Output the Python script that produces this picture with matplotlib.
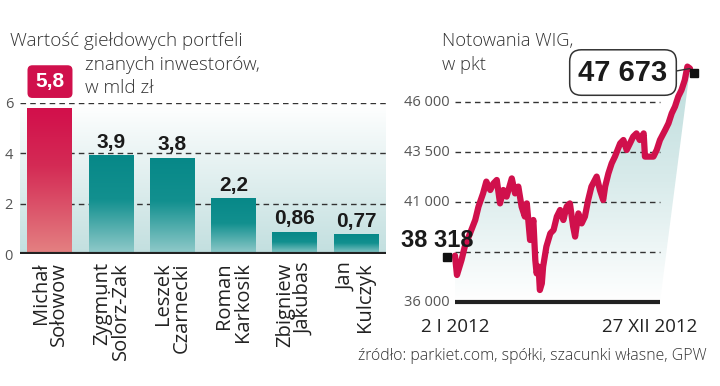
import numpy as np
import matplotlib.pyplot as plt
from matplotlib.colors import LinearSegmentedColormap
from matplotlib.patches import FancyBboxPatch, Polygon
from matplotlib.transforms import offset_copy

# portfele inwestorow (mld zl)
names = ['Michał\nSołowow', 'Zygmunt\nSolorz-Żak', 'Leszek\nCzarnecki',
         'Roman\nKarkosik', 'Zbigniew\nJakubas', 'Jan\nKulczyk']
portfolio = [5.8, 3.9, 3.8, 2.2, 0.86, 0.77]
portfolio_labels = ['5,8', '3,9', '3,8', '2,2', '0,86', '0,77']
left_ticks = [0, 2, 4, 6]

# WIG 2012 (dzien roku, punkty)
wig_days = [2, 5, 12, 17, 25, 33, 38, 45, 50, 56,
            61, 66, 71, 76, 81, 89, 94, 99, 104, 109,
            112, 117, 122, 125, 127, 130, 132, 135, 137, 142,
            148, 153, 158, 163, 168, 173, 178, 183, 186, 191,
            196, 201, 206, 211, 219, 224, 229, 232, 237, 242,
            247, 255, 260, 265, 270, 275, 280, 285, 291, 293,
            298, 306, 311, 316, 324, 329, 334, 339, 344, 349,
            354, 358, 362]
wig_values = [38318, 37350, 38100, 38770, 39430, 40100, 40770, 41430, 42020, 41600,
              41930, 42100, 40930, 41600, 41270, 42180, 41430, 41770, 40770, 40270,
              40930, 39100, 40100, 38100, 37430, 37770, 36600, 36930, 37770, 38770,
              39430, 39600, 40270, 40600, 40100, 40770, 40930, 39770, 39270, 40430,
              39930, 40270, 41100, 41770, 42270, 41600, 41100, 41770, 42430, 42930,
              43270, 43930, 44100, 43600, 43930, 44270, 44430, 44100, 44430, 43270,
              43270, 43270, 43600, 44100, 44600, 44930, 45430, 45770, 46270, 46600,
              47100, 47770, 47673]
wig_ticks = [36000, 38500, 41000, 43500, 46000]
wig_tick_labels = ['36 000', '', '41 000', '43 500', '46 000']
wig_start_label = '38 318'
wig_end_label = '47 673'
date_labels = ['2 I 2012', '27 XII 2012']

light = ['Open Sans', 'DejaVu Sans']
bold = ['Liberation Sans', 'DejaVu Sans']
red = '#d0104c'

fig = plt.figure(figsize=(7.2, 3.86), dpi=100)

def px(x, y):
    return x / 720, 1 - y / 386

# ---- lewy wykres
ax1 = fig.add_axes([20 / 720, 132 / 386, 366 / 720, 151 / 386])
grad = np.linspace(0, 1, 256).reshape(-1, 1)
bg = LinearSegmentedColormap.from_list('bg', ['#c2dfdf', '#ffffff'])
ax1.imshow(grad, cmap=bg, extent=(-0.49, 5.49, 0, 6), aspect='auto', origin='lower', zorder=0)

teal = LinearSegmentedColormap.from_list('teal', [(0, '#93cbcb'), (0.55, '#12908f'), (1, '#078888')])
redc = LinearSegmentedColormap.from_list('redc', [(0, '#e48282'), (0.6, '#d42b55'), (1, '#d20f4b')])
w = 0.735
for i, v in enumerate(portfolio):
    ax1.imshow(grad, cmap=redc if i == 0 else teal, extent=(i - w / 2, i + w / 2, 0, v),
               aspect='auto', origin='lower', zorder=2)
    if i == 0:
        box = FancyBboxPatch((i - w / 2, v + 0.4), w, 1.3,
                             boxstyle='round,pad=0,rounding_size=0.08', mutation_aspect=2.43,
                             fc=red, ec='none', clip_on=False, zorder=3)
        ax1.add_patch(box)
        ax1.text(i, v + 1.05, portfolio_labels[i], ha='center', va='center', color='white',
                 fontsize=15, fontweight='bold', family=bold, zorder=4)
    else:
        ax1.annotate(portfolio_labels[i], (i, v), xytext=(0, 8), textcoords='offset pixels',
                     ha='center', va='baseline', fontsize=15, fontweight='bold',
                     family=bold, color='#1a1a1a', zorder=4)

for y in left_ticks[1:]:
    ax1.axhline(y, color='#333333', lw=1, ls=(0, (4, 3)), zorder=1)
ax1.axhline(0, color='#222222', lw=3, zorder=5)
ax1.set_xlim(-0.49, 5.49)
ax1.set_ylim(0, 6)
for s in ax1.spines.values():
    s.set_visible(False)
ax1.set_yticks(left_ticks)
ax1.set_yticklabels([str(t) for t in left_ticks], family=light, fontsize=10.5, color='#555555')
ax1.set_xticks(range(len(names)))
ax1.set_xticklabels(names, rotation=90, family=light, fontsize=14.5, color='#222222',
                    linespacing=0.92, multialignment='right')
ax1.tick_params(length=0, pad=5)
ax1.tick_params(axis='x', pad=6)

fig.text(*px(10, 46), 'Wartość giełdowych portfeli', family=light, fontweight='light',
         fontsize=13.6, color='#333333', va='baseline')
fig.text(*px(85, 70), 'znanych inwestorów,', family=light, fontweight='light',
         fontsize=13.6, color='#333333', va='baseline')
fig.text(*px(85, 93), 'w mld zł', family=light, fontweight='light',
         fontsize=13.6, color='#333333', va='baseline')

# ---- prawy wykres
ax2 = fig.add_axes([455 / 720, 84 / 386, 235 / 720, 240 / 386])
ax2.set_xlim(2, 362)
ax2.set_ylim(36000, 48000)
ax2.axis('off')

grid_end = 316
fill = Polygon(list(zip(wig_days, wig_values)) + [(grid_end, wig_ticks[0]), (wig_days[0], wig_ticks[0])],
               closed=True, fc='none', ec='none', transform=ax2.transData)
ax2.add_patch(fill)
fillc = LinearSegmentedColormap.from_list('fillc', ['#ffffff', '#d9ebeb', '#bcdcdc'])
im = ax2.imshow(grad, cmap=fillc, extent=(2, 362, 36000, 48000), aspect='auto', origin='lower', zorder=0)
im.set_clip_path(fill)

ax2.hlines(wig_ticks[1:], wig_days[0], grid_end, color='#333333', lw=1, ls=(0, (4, 3)), zorder=1)
ax2.hlines(wig_ticks[0], wig_days[0], grid_end, color='#222222', lw=3, zorder=1, clip_on=False)
for t, lab in zip(wig_ticks, wig_tick_labels):
    ax2.annotate(lab, (wig_days[0], t), xytext=(-5, 0), textcoords='offset pixels',
                 ha='right', va='center', family=light, fontsize=10.5, color='#555555')

ax2.plot(wig_days, wig_values, color=red, lw=4.5, solid_joinstyle='round',
         solid_capstyle='round', clip_on=False, zorder=3)

start_tr = offset_copy(ax2.transData, fig=fig, x=-8, y=-1, units='dots')
end_tr = offset_copy(ax2.transData, fig=fig, x=4, y=-4, units='dots')
ax2.plot(wig_days[0], wig_values[0], 's', ms=5.5, color='#111111', transform=start_tr, clip_on=False, zorder=4)
ax2.plot(wig_days[-1], wig_values[-1], 's', ms=5.5, color='#111111', transform=end_tr, clip_on=False, zorder=4)

ax2.annotate(wig_start_label, (wig_days[0], wig_values[0]), xytext=(-18, 9), textcoords='offset pixels',
             ha='center', va='baseline', fontsize=17, fontweight='bold', family=bold,
             color='#1a1a1a', zorder=5, annotation_clip=False)
ax2.annotate(wig_end_label, (wig_days[-1], wig_values[-1]), xytext=(-67, -4), textcoords='offset pixels',
             ha='center', va='center', fontsize=21, fontweight='bold', family=bold, color='#1a1a1a',
             bbox=dict(boxstyle='round,pad=0.3,rounding_size=0.4', fc='white', ec='#333333', lw=1.1),
             arrowprops=dict(arrowstyle='-', color='#333333', lw=1, shrinkA=0, shrinkB=0, relpos=(1, 0.5)),
             zorder=5, annotation_clip=False)

fig.text(*px(442, 46), 'Notowania WIG,', family=light, fontweight='light',
         fontsize=13.2, color='#333333', va='baseline')
fig.text(*px(442, 70), 'w pkt', family=light, fontweight='light',
         fontsize=13.2, color='#333333', va='baseline')

fig.text(*px(455, 332), date_labels[0], ha='center', va='baseline', family=light,
         fontsize=13.5, color='#222222')
fig.text(*px(650, 332), date_labels[1], ha='center', va='baseline', family=light,
         fontsize=13.5, color='#222222')

fig.text(*px(358, 360), 'źródło: parkiet.com, spółki, szacunki własne, GPW', family=light,
         fontweight='light', fontsize=11.4, color='#333333', va='baseline')

plt.savefig('out.png', dpi=100)
